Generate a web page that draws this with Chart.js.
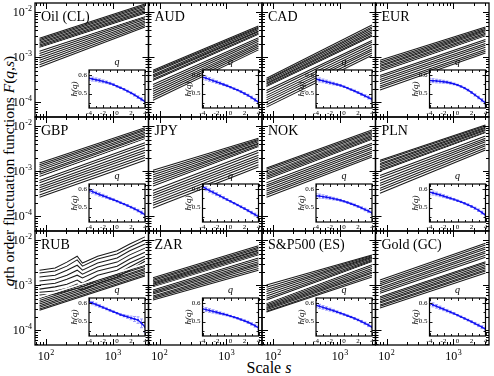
<!DOCTYPE html>
<html lang="en">
<head>
<meta charset="UTF-8">
<title>q-th order fluctuation functions</title>
<script src="https://cdn.jsdelivr.net/npm/chart.js"></script>
<style>
  body { margin: 0; background: #fff; }
  #wrap { position: relative; width: 494px; height: 376px; overflow: hidden; font-family: 'Liberation Serif', 'DejaVu Serif', serif; }
  #wrap canvas { position: absolute; left: 0; top: 0; }
  .lbl { position: absolute; color: #000; white-space: nowrap; }
  #ytitle { left: 9px; top: 171px; font-size: 15.5px; transform: translate(-50%, -50%) rotate(-90deg); }
  #xtitle { left: 269px; top: 368px; font-size: 16px; transform: translate(-50%, -50%); }
</style>
</head>
<body>
<div id="wrap">
  <div class="lbl" id="ytitle"><i>q</i>th order fluctuation functions <i>F</i>(<i>q</i>,<i>s</i>)</div>
  <div class="lbl" id="xtitle">Scale <i>s</i></div>
</div>
<script>
// ---- data ----
const panelNames = ['Oil (CL)', 'AUD', 'CAD', 'EUR', 'GBP', 'JPY', 'NOK', 'PLN', 'RUB', 'ZAR', 'S&P500 (ES)', 'Gold (GC)'];
// curves from top to bottom (q = 0 is the white one)
const qValues = [4, 3.5, 3, 2.5, 2, 1.5, 1, 0.5, 0, -0.5, -1, -1.5, -2, -2.5, -3, -3.5, -4];
const sEnds = [80, 3000];
const sRub = [80, 137, 205, 292, 350, 590, 1150, 1780, 3000];

// log10 F(q,s) at the scales above, one row per q
const logF_oil = [[-2.58,-1.82],[-2.61,-1.85],[-2.64,-1.88],[-2.67,-1.91],[-2.70,-1.94],[-2.73,-1.97],[-2.76,-2.00],[-2.79,-2.03],[-2.82,-2.07],[-2.87,-2.10],[-2.92,-2.13],[-2.97,-2.16],[-3.02,-2.20],[-3.07,-2.23],[-3.12,-2.26],[-3.17,-2.30],[-3.22,-2.33]];
const logF_aud = [[-3.29,-2.31],[-3.32,-2.34],[-3.35,-2.36],[-3.39,-2.39],[-3.42,-2.42],[-3.45,-2.44],[-3.49,-2.47],[-3.52,-2.50],[-3.56,-2.53],[-3.61,-2.57],[-3.66,-2.61],[-3.71,-2.65],[-3.76,-2.69],[-3.81,-2.72],[-3.86,-2.76],[-3.91,-2.80],[-3.96,-2.84]];
const logF_cad = [[-3.47,-2.29],[-3.50,-2.33],[-3.52,-2.36],[-3.55,-2.40],[-3.58,-2.44],[-3.60,-2.47],[-3.63,-2.51],[-3.66,-2.54],[-3.69,-2.58],[-3.74,-2.63],[-3.79,-2.67],[-3.85,-2.72],[-3.90,-2.77],[-3.95,-2.82],[-4.00,-2.86],[-4.06,-2.91],[-4.11,-2.96]];
const logF_eur = [[-3.07,-2.33],[-3.11,-2.36],[-3.14,-2.39],[-3.18,-2.41],[-3.21,-2.44],[-3.25,-2.47],[-3.28,-2.50],[-3.32,-2.53],[-3.36,-2.56],[-3.41,-2.61],[-3.45,-2.65],[-3.50,-2.70],[-3.54,-2.74],[-3.59,-2.78],[-3.64,-2.83],[-3.68,-2.87],[-3.73,-2.91]];
const logF_gbp = [[-2.82,-2.04],[-2.86,-2.07],[-2.90,-2.10],[-2.94,-2.14],[-2.98,-2.17],[-3.03,-2.21],[-3.07,-2.24],[-3.12,-2.28],[-3.16,-2.31],[-3.21,-2.37],[-3.26,-2.42],[-3.32,-2.48],[-3.37,-2.54],[-3.42,-2.59],[-3.47,-2.65],[-3.53,-2.70],[-3.58,-2.76]];
const logF_jpy = [[-2.98,-2.27],[-3.03,-2.30],[-3.08,-2.32],[-3.13,-2.35],[-3.18,-2.38],[-3.23,-2.40],[-3.28,-2.43],[-3.33,-2.46],[-3.38,-2.49],[-3.43,-2.54],[-3.49,-2.59],[-3.54,-2.65],[-3.60,-2.70],[-3.65,-2.75],[-3.71,-2.80],[-3.76,-2.86],[-3.82,-2.91]];
const logF_nok = [[-2.93,-2.09],[-2.96,-2.12],[-3.00,-2.15],[-3.04,-2.18],[-3.07,-2.21],[-3.11,-2.24],[-3.14,-2.27],[-3.18,-2.30],[-3.22,-2.33],[-3.26,-2.38],[-3.31,-2.42],[-3.35,-2.47],[-3.40,-2.51],[-3.44,-2.56],[-3.49,-2.60],[-3.53,-2.65],[-3.58,-2.69]];
const logF_pln = [[-2.76,-1.98],[-2.79,-2.00],[-2.83,-2.03],[-2.86,-2.05],[-2.90,-2.08],[-2.93,-2.10],[-2.97,-2.13],[-3.00,-2.15],[-3.04,-2.18],[-3.10,-2.22],[-3.15,-2.27],[-3.21,-2.31],[-3.27,-2.35],[-3.32,-2.40],[-3.38,-2.44],[-3.43,-2.49],[-3.49,-2.53]];
const logF_rub = [
  [-2.67,-2.62,-2.49,-2.36,-2.51,-2.36,-2.24,-2.09,-1.93],
  [-2.73,-2.69,-2.58,-2.44,-2.58,-2.42,-2.31,-2.16,-2.00],
  [-2.82,-2.78,-2.67,-2.56,-2.67,-2.51,-2.40,-2.24,-2.09],
  [-2.91,-2.87,-2.78,-2.67,-2.76,-2.60,-2.49,-2.33,-2.18],
  [-3.00,-2.96,-2.87,-2.78,-2.84,-2.69,-2.58,-2.42,-2.27],
  [-3.09,-3.04,-2.98,-2.89,-2.96,-2.78,-2.67,-2.51,-2.36],
  [-3.16,-3.13,-3.07,-2.98,-3.04,-2.89,-2.76,-2.60,-2.42],
  [-3.22,-3.20,-3.13,-3.07,-3.11,-2.96,-2.82,-2.67,-2.47],
  [-3.27,-2.53],[-3.30,-2.56],[-3.34,-2.59],[-3.38,-2.63],[-3.42,-2.66],[-3.46,-2.70],[-3.49,-2.73],[-3.53,-2.77],[-3.56,-2.80]];
const logF_zar = [[-2.84,-2.13],[-2.87,-2.16],[-2.90,-2.19],[-2.93,-2.22],[-2.96,-2.24],[-2.98,-2.27],[-3.01,-2.30],[-3.04,-2.33],[-3.07,-2.36],[-3.11,-2.40],[-3.14,-2.44],[-3.17,-2.48],[-3.20,-2.52],[-3.24,-2.55],[-3.27,-2.59],[-3.30,-2.63],[-3.33,-2.67]];
const logF_es = [[-3.00,-2.33],[-3.05,-2.35],[-3.10,-2.37],[-3.14,-2.39],[-3.19,-2.41],[-3.24,-2.44],[-3.29,-2.46],[-3.33,-2.48],[-3.38,-2.51],[-3.41,-2.55],[-3.44,-2.59],[-3.47,-2.63],[-3.50,-2.67],[-3.52,-2.71],[-3.55,-2.74],[-3.58,-2.78],[-3.60,-2.82]];
const logF_gc = [[-2.89,-2.07],[-2.93,-2.11],[-2.97,-2.16],[-3.01,-2.20],[-3.06,-2.25],[-3.10,-2.29],[-3.14,-2.34],[-3.18,-2.38],[-3.22,-2.44],[-3.26,-2.48],[-3.29,-2.51],[-3.33,-2.55],[-3.37,-2.59],[-3.40,-2.62],[-3.44,-2.66],[-3.47,-2.69],[-3.51,-2.73]];
const logF = [logF_oil, logF_aud, logF_cad, logF_eur, logF_gbp, logF_jpy, logF_nok, logF_pln, logF_rub, logF_zar, logF_es, logF_gc];

// insets: h(q)
const qInset = [-4, -3.5, -3, -2.5, -2, -1.5, -1, -0.5, 0, 0.5, 1, 1.5, 2, 2.5, 3, 3.5, 4];
const h_oil = [0.585,0.58,0.576,0.572,0.567,0.562,0.556,0.549,0.54,0.532,0.523,0.513,0.503,0.492,0.48,0.468,0.455];
const h_aud = [0.59,0.585,0.578,0.571,0.564,0.557,0.55,0.543,0.535,0.527,0.519,0.51,0.5,0.49,0.478,0.465,0.452];
const h_cad = [0.58,0.575,0.57,0.565,0.56,0.555,0.55,0.545,0.538,0.53,0.522,0.514,0.505,0.496,0.487,0.478,0.468];
const h_eur = [0.572,0.571,0.569,0.567,0.565,0.562,0.558,0.553,0.547,0.539,0.53,0.519,0.506,0.492,0.478,0.463,0.448];
const h_gbp = [0.595,0.588,0.58,0.572,0.565,0.558,0.55,0.543,0.535,0.527,0.519,0.511,0.502,0.493,0.483,0.472,0.46];
const h_jpy = [0.615,0.604,0.594,0.584,0.574,0.564,0.554,0.544,0.534,0.524,0.514,0.504,0.494,0.483,0.472,0.461,0.45];
const h_nok = [0.565,0.563,0.56,0.557,0.553,0.549,0.545,0.54,0.534,0.528,0.521,0.514,0.506,0.498,0.489,0.48,0.47];
const h_pln = [0.585,0.58,0.575,0.569,0.563,0.557,0.551,0.545,0.538,0.531,0.523,0.515,0.506,0.496,0.485,0.472,0.458];
const h_rub = [0.61,0.602,0.594,0.586,0.578,0.57,0.562,0.554,0.546,0.538,0.532,0.526,0.52,0.514,0.508,0.49,0.47];
const h_zar = [0.57,0.566,0.561,0.556,0.551,0.546,0.541,0.536,0.53,0.524,0.518,0.511,0.504,0.496,0.487,0.477,0.465];
const h_es = [0.59,0.584,0.578,0.572,0.566,0.56,0.553,0.546,0.539,0.532,0.525,0.517,0.509,0.5,0.49,0.48,0.468];
const h_gc = [0.6,0.592,0.584,0.576,0.568,0.56,0.552,0.544,0.535,0.526,0.517,0.508,0.499,0.489,0.479,0.469,0.458];
const hValues = [h_oil, h_aud, h_cad, h_eur, h_gbp, h_jpy, h_nok, h_pln, h_rub, h_zar, h_es, h_gc];
const hErr = [0.012,0.011,0.01,0.009,0.008,0.007,0.006,0.005,0.004,0.004,0.004,0.005,0.005,0.006,0.007,0.008,0.01];
const hErrRub = [0.01,0.009,0.008,0.007,0.006,0.005,0.005,0.004,0.004,0.005,0.006,0.008,0.01,0.014,0.018,0.024,0.03];

// ---- layout ----
const W = 494, H = 376;
const X0 = 35, Y0 = 3, CW = 113.5, RH = 114;
const SERIF = '"Liberation Serif", "DejaVu Serif", serif';
const wrap = document.getElementById('wrap');

Chart.defaults.font.family = SERIF;

function newCanvas() {
  const c = document.createElement('canvas');
  c.width = W; c.height = H;
  c.style.width = W + 'px'; c.style.height = H + 'px';
  wrap.appendChild(c);
  return c;
}

function logTicks(min, max) {
  const out = [];
  for (let e = Math.floor(Math.log10(min)); e <= Math.ceil(Math.log10(max)); e++) {
    for (let m = 1; m < 10; m++) {
      const v = m * Math.pow(10, e);
      if (v >= min && v <= max) out.push({ v, major: m === 1, e });
    }
  }
  return out;
}

function drawPow(ctx, x, y, exp, align) {
  ctx.font = '12px ' + SERIF;
  const wb = ctx.measureText('10').width;
  ctx.font = '8px ' + SERIF;
  const we = ctx.measureText(exp).width;
  const total = wb + we + 0.5;
  const x0 = align === 'right' ? x - total : x - total / 2;
  ctx.textAlign = 'left';
  ctx.textBaseline = 'alphabetic';
  ctx.font = '12px ' + SERIF;
  ctx.fillText('10', x0, y);
  ctx.font = '8px ' + SERIF;
  ctx.fillText(exp, x0 + wb + 0.5, y - 5);
}

function mainPanel(p) {
  const col = p % 4, row = Math.floor(p / 4);
  const left = X0 + col * CW, top = Y0 + row * RH;

  const datasets = logF[p].map((line, i) => {
    const grid = line.length === sEnds.length ? sEnds : sRub;
    const white = qValues[i] === 0;
    return {
      data: line.map((v, k) => ({ x: grid[k], y: Math.pow(10, v) })),
      borderColor: white ? '#ffffff' : '#1a1a1a',
      borderWidth: white ? 1.8 : 1.05,
      pointRadius: 0,
      tension: 0,
      order: white ? 0 : 1
    };
  });

  const decor = {
    id: 'panelDecor',
    afterDraw(chart) {
      const { ctx, chartArea: a } = chart;
      const xs = chart.scales.x, ys = chart.scales.y;
      ctx.save();
      ctx.strokeStyle = '#000';
      ctx.lineWidth = 1;
      ctx.beginPath();
      logTicks(xs.min, xs.max).forEach(t => {
        const px = Math.round(xs.getPixelForValue(t.v)) + 0.5;
        const len = t.major ? 6 : 3;
        ctx.moveTo(px, a.bottom); ctx.lineTo(px, a.bottom - len);
        ctx.moveTo(px, a.top); ctx.lineTo(px, a.top + len);
      });
      logTicks(ys.min, ys.max).forEach(t => {
        const py = Math.round(ys.getPixelForValue(t.v)) + 0.5;
        const len = t.major ? 6 : 3;
        ctx.moveTo(a.left, py); ctx.lineTo(a.left + len, py);
        ctx.moveTo(a.right, py); ctx.lineTo(a.right - len, py);
      });
      ctx.stroke();
      ctx.lineWidth = 1.3;
      ctx.strokeRect(a.left, a.top, a.right - a.left, a.bottom - a.top);

      ctx.fillStyle = '#000';
      ctx.font = '14px ' + SERIF;
      ctx.textAlign = 'left';
      ctx.textBaseline = 'alphabetic';
      ctx.fillText(panelNames[p], a.left + 6, a.top + 18);

      if (col === 0) {
        logTicks(ys.min, ys.max).filter(t => t.major).forEach(t => {
          drawPow(ctx, a.left - 3, ys.getPixelForValue(t.v) + 4, '-' + (-t.e), 'right');
        });
      }
      if (row === 2) {
        logTicks(xs.min, xs.max).filter(t => t.major).forEach(t => {
          drawPow(ctx, xs.getPixelForValue(t.v), a.bottom + 15, String(t.e), 'center');
        });
      }
      ctx.restore();
    }
  };

  new Chart(newCanvas(), {
    type: 'line',
    data: { datasets },
    options: {
      responsive: false,
      animation: false,
      devicePixelRatio: 1,
      layout: { padding: { left: left, top: top, right: W - (left + CW), bottom: H - (top + RH) } },
      plugins: { legend: { display: false }, tooltip: { enabled: false } },
      scales: {
        x: { type: 'logarithmic', min: 68.5, max: 3390, display: false },
        y: { type: 'logarithmic', min: 4.68e-5, max: 1.585e-2, display: false }
      }
    },
    plugins: [decor]
  });
}

function insetPanel(p) {
  const col = p % 4, row = Math.floor(p / 4);
  const left = X0 + col * CW + 54, top = Y0 + row * RH + 67;
  const w = 56, h = 38;
  const hv = hValues[p];
  const err = p === 8 ? hErrRub : hErr;

  const decor = {
    id: 'insetDecor',
    beforeDatasetsDraw(chart) {
      const { ctx, chartArea: a } = chart;
      const xs = chart.scales.x, ys = chart.scales.y;
      ctx.save();
      ctx.fillStyle = '#fff';
      ctx.fillRect(a.left, a.top, a.right - a.left, a.bottom - a.top);
      ctx.beginPath();
      ctx.rect(a.left, a.top, a.right - a.left, a.bottom - a.top);
      ctx.clip();
      ctx.strokeStyle = '#9c9cff';
      ctx.lineWidth = 1;
      ctx.beginPath();
      err.forEach((e, i) => {
        const px = xs.getPixelForValue(qInset[i]);
        const y1 = ys.getPixelForValue(hv[i] - e), y2 = ys.getPixelForValue(hv[i] + e);
        ctx.moveTo(px, y1); ctx.lineTo(px, y2);
        ctx.moveTo(px - 1.5, y1); ctx.lineTo(px + 1.5, y1);
        ctx.moveTo(px - 1.5, y2); ctx.lineTo(px + 1.5, y2);
      });
      ctx.stroke();
      ctx.restore();
    },
    afterDraw(chart) {
      const { ctx, chartArea: a } = chart;
      const xs = chart.scales.x, ys = chart.scales.y;
      ctx.save();
      ctx.strokeStyle = '#000';
      ctx.lineWidth = 0.9;
      ctx.beginPath();
      for (let q = -4; q <= 4; q++) {
        const px = Math.round(xs.getPixelForValue(q)) + 0.5;
        const len = q % 2 === 0 ? 3 : 2;
        ctx.moveTo(px, a.bottom); ctx.lineTo(px, a.bottom - len);
        ctx.moveTo(px, a.top); ctx.lineTo(px, a.top + len);
      }
      [0.45, 0.5, 0.55, 0.6].forEach(v => {
        const py = Math.round(ys.getPixelForValue(v)) + 0.5;
        const len = (v === 0.5 || v === 0.6) ? 3 : 2;
        ctx.moveTo(a.left, py); ctx.lineTo(a.left + len, py);
        ctx.moveTo(a.right, py); ctx.lineTo(a.right - len, py);
      });
      ctx.stroke();
      ctx.lineWidth = 1.2;
      ctx.strokeRect(a.left, a.top, a.right - a.left, a.bottom - a.top);

      ctx.fillStyle = '#000';
      ctx.font = '7px ' + SERIF;
      ctx.textAlign = 'center';
      ctx.textBaseline = 'middle';
      [-4, -2, 0, 2, 4].forEach(q => ctx.fillText(String(q), xs.getPixelForValue(q), a.bottom + 5));
      ctx.textAlign = 'right';
      ['0.5', '0.6'].forEach(s => ctx.fillText(s, a.left - 2, ys.getPixelForValue(Number(s))));

      ctx.font = 'italic 10px ' + SERIF;
      ctx.textAlign = 'center';
      ctx.textBaseline = 'alphabetic';
      ctx.fillText('q', (a.left + a.right) / 2, a.top - 5);

      ctx.translate(a.left - 14, (a.top + a.bottom) / 2);
      ctx.rotate(-Math.PI / 2);
      ctx.font = 'italic 9px ' + SERIF;
      ctx.textBaseline = 'middle';
      ctx.fillText('h(q)', 0, 0);
      ctx.restore();
    }
  };

  new Chart(newCanvas(), {
    type: 'line',
    data: {
      datasets: [{
        data: qInset.map((q, i) => ({ x: q, y: hv[i] })),
        borderColor: '#1414f0',
        borderWidth: 1.4,
        pointRadius: 1,
        pointBorderWidth: 0,
        pointBackgroundColor: '#1414f0',
        tension: 0
      }]
    },
    options: {
      responsive: false,
      animation: false,
      devicePixelRatio: 1,
      layout: { padding: { left: left, top: top, right: W - (left + w), bottom: H - (top + h) } },
      plugins: { legend: { display: false }, tooltip: { enabled: false } },
      scales: {
        x: { type: 'linear', min: -4, max: 4, display: false },
        y: { type: 'linear', min: 0.42, max: 0.63, display: false }
      }
    },
    plugins: [decor]
  });
}

for (let p = 0; p < 12; p++) mainPanel(p);
for (let p = 0; p < 12; p++) insetPanel(p);
</script>
</body>
</html>
